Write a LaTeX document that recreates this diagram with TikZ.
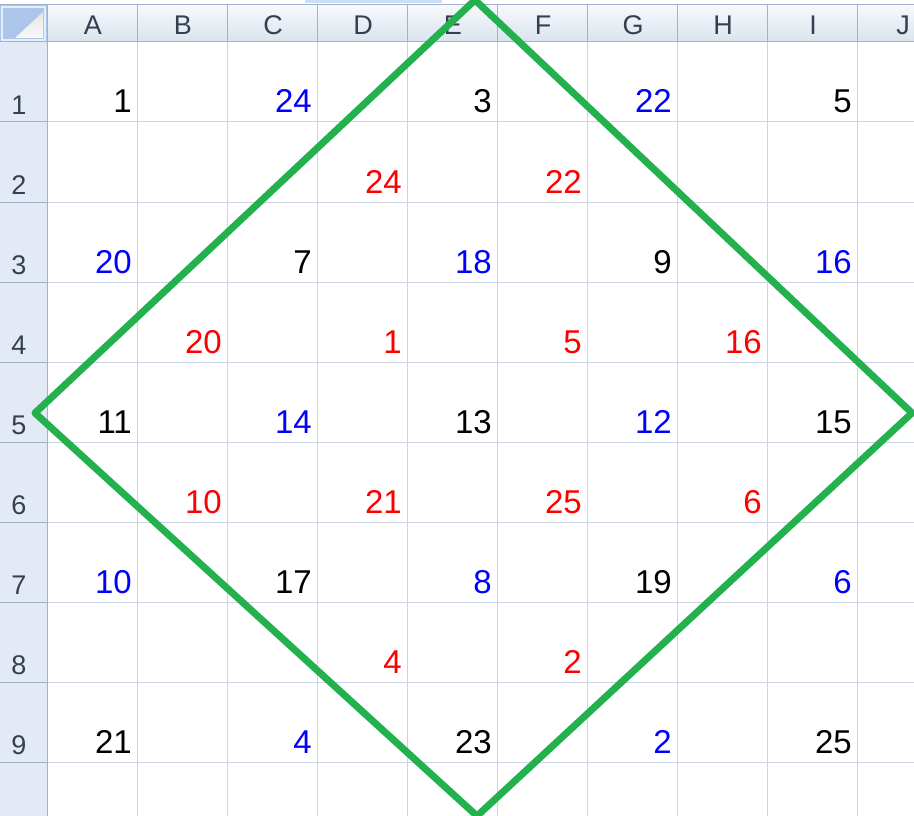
\documentclass[tikz,border=0pt]{standalone}
\usepackage{fontspec}
\setmainfont{Liberation Sans}
\definecolor{gridblue}{HTML}{C9D5E6}
\definecolor{headline}{HTML}{9EB3CD}
\definecolor{headtop}{HTML}{F7F9FC}
\definecolor{headbot}{HTML}{DAE3EE}
\definecolor{rowhead}{HTML}{E3EAF5}
\definecolor{corner}{HTML}{ABC6EA}
\definecolor{headtext}{HTML}{34404F}
\definecolor{magicgreen}{HTML}{22B14C}
\begin{document}
\begin{tikzpicture}[x=1pt, y=-1pt,
    grid line/.style = {draw=gridblue, line width=1pt},
    head line/.style = {draw=headline, line width=1pt},
    head/.style = {font=\fontsize{27}{27}\selectfont, text=headtext, anchor=base, inner sep=0pt},
    num/.style = {font=\fontsize{33}{33}\selectfont, anchor=base east, inner sep=0pt},
    frame/.style = {draw=magicgreen, line width=7pt, line join=round}
     ]
  \useasboundingbox (0,0) rectangle (914,816);
  \clip (0,0) rectangle (914,816);
  \fill[white] (0,0) rectangle (914,816);
  % top strip and headers
  \fill[corner!60] (305,0) rectangle (442,3);
  \shade[top color=headtop, bottom color=headbot] (47,5) rectangle (914,42);
  \fill[rowhead] (0,42) rectangle (47,816);
  \fill[corner] (0,5) rectangle (47,42);
  \draw[white!70!corner, line width=1.5pt] (2,7) rectangle (45,40);
  \shade[top color=white!80!gray, bottom color=white!95!gray] (15,38) -- (43,38) -- (43,12) -- cycle;
  \draw[head line] (0,4.5) -- (914,4.5);
  % grid
  \foreach \c in {1,...,9}
    \draw[grid line] ({47+90*\c},42) -- ({47+90*\c},816);
  \foreach \r in {1,...,9}
    \draw[grid line] (47,{42+80*\r}) -- (914,{42+80*\r});
  \foreach \c in {1,...,9}
    \draw[head line] ({47+90*\c},5) -- ({47+90*\c},42);
  \foreach \r in {1,...,9}
    \draw[head line] (0,{42+80*\r}) -- (47,{42+80*\r});
  \draw[head line] (0,42) -- (914,42);
  \draw[head line] (47,5) -- (47,816);
  % column and row labels
  \foreach \l [count=\c] in {A,B,C,D,E,F,G,H,I,J}
    \node[head] (col\l) at ({3+90*\c},35) {\l};
  \foreach \r in {1,...,9}
    \node[head] (row\r) at (19,{42+80*\r-8}) {\r};
  % numbers
  \foreach \c/\r/\v/\k in {1/1/1/black, 3/1/24/blue, 5/1/3/black, 7/1/22/blue, 9/1/5/black,
      4/2/24/red, 6/2/22/red,
      1/3/20/blue, 3/3/7/black, 5/3/18/blue, 7/3/9/black, 9/3/16/blue,
      2/4/20/red, 4/4/1/red, 6/4/5/red, 8/4/16/red,
      1/5/11/black, 3/5/14/blue, 5/5/13/black, 7/5/12/blue, 9/5/15/black,
      2/6/10/red, 4/6/21/red, 6/6/25/red, 8/6/6/red,
      1/7/10/blue, 3/7/17/black, 5/7/8/blue, 7/7/19/black, 9/7/6/blue,
      4/8/4/red, 6/8/2/red,
      1/9/21/black, 3/9/4/blue, 5/9/23/black, 7/9/2/blue, 9/9/25/black}
    \node[num, text=\k] (n\c-\r) at ({47+90*\c-5},{42+80*\r-9}) {\v};
  % diamond
  \draw[frame] (475,0) -- (912,413) -- (477,816) -- (35,413) -- cycle;
\end{tikzpicture}
\end{document}
